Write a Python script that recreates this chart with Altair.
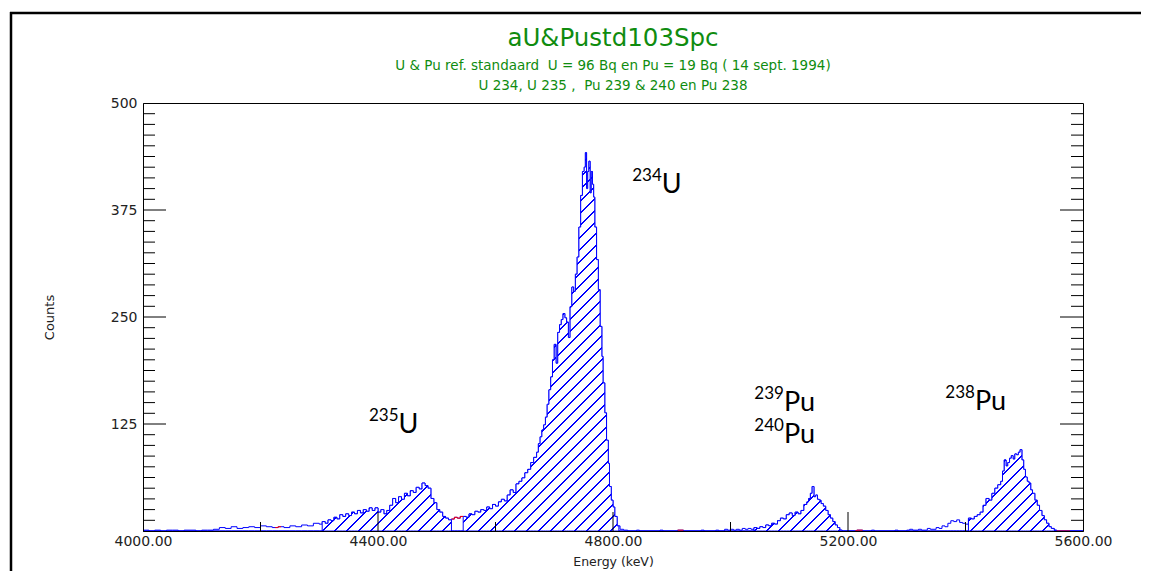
import altair as alt
import pandas as pd

# ---------------- data ----------------
energy = [4000, 4010, 4020, 4030, 4040, 4050, 4060, 4070, 4080, 4090, 4100, 4110, 4120,
          4130, 4140, 4150, 4160, 4170, 4180, 4190, 4200, 4210, 4220, 4230, 4240, 4250,
          4260, 4270, 4280, 4290, 4300,
          4305, 4310, 4315, 4320, 4325, 4330, 4335, 4340, 4345, 4350, 4355, 4360, 4365,
          4370, 4375, 4380, 4385, 4390, 4395, 4400, 4405, 4410, 4415, 4420, 4425, 4430,
          4435, 4440, 4445, 4450, 4455, 4460, 4465, 4470, 4475, 4480, 4485, 4490, 4495,
          4500, 4505, 4510, 4515, 4520, 4525, 4530, 4535, 4540,
          4545, 4550, 4555, 4560, 4565, 4570, 4575, 4580, 4585, 4590, 4595, 4600, 4605,
          4610, 4615, 4620, 4625, 4630, 4635, 4640, 4645, 4650, 4655, 4660, 4665, 4670,
          4673, 4676, 4679, 4682, 4685, 4688, 4691, 4694, 4697, 4700, 4703, 4706, 4709,
          4712, 4715, 4718, 4721, 4724, 4727, 4730, 4733, 4736, 4739, 4742, 4745, 4748,
          4751, 4753, 4755, 4757, 4759, 4761, 4763, 4765, 4767, 4769, 4772, 4775, 4778,
          4781, 4783, 4786, 4789, 4792, 4794, 4797, 4800, 4803, 4807, 4812, 4818, 4825,
          4840, 4845, 4880, 4885, 4910, 4920, 4950, 4955, 4975, 4980, 4990, 4995, 5000,
          5005, 5010, 5015, 5020, 5025, 5030, 5035, 5040, 5045, 5050, 5055, 5060, 5065,
          5070, 5075, 5080, 5085, 5090, 5095, 5100, 5105, 5110, 5115, 5120, 5125, 5130,
          5133, 5136, 5139, 5142, 5145, 5148, 5151, 5154, 5158, 5162, 5166, 5170, 5174,
          5178, 5182, 5186, 5190, 5215, 5225, 5240, 5245, 5280, 5285, 5300, 5305, 5310,
          5320, 5325, 5335, 5340, 5350, 5355, 5360, 5365, 5370, 5375, 5380, 5385, 5390,
          5395, 5400, 5405, 5410, 5415, 5420, 5425, 5430, 5435, 5440, 5445, 5450, 5455,
          5460, 5463, 5466, 5469, 5472, 5475, 5478, 5481, 5484, 5487, 5490, 5493, 5496,
          5499, 5502, 5505, 5508, 5511, 5514, 5518, 5522, 5526, 5530, 5534, 5538, 5542,
          5546, 5551, 5555, 5600]
counts = [1, 0, 1, 0, 1, 1, 0, 1, 1, 0, 1, 1, 2,
          4, 3, 5, 3, 4, 5, 4, 6, 5, 4, 5, 4, 6,
          5, 7, 6, 9, 8,
          11, 9, 13, 12, 16, 14, 19, 17, 20, 18, 22, 20, 24,
          21, 25, 23, 27, 24, 27, 22, 25, 20, 24, 30, 38, 33,
          40, 37, 44, 41, 47, 45, 51, 49, 56, 53, 50, 38, 33,
          25, 22, 17, 15, 13, 14, 16, 15, 17,
          17, 16, 20, 19, 23, 22, 25, 24, 28, 26, 31, 29, 34,
          37, 35, 42, 48, 45, 55, 58, 62, 68, 72, 80, 86, 92,
          102, 110, 118, 124, 133, 148, 165, 180, 200, 218, 196, 232, 241,
          247, 254, 249, 244, 226, 262, 285, 280, 300, 320, 355, 392, 420,
          425, 442, 400, 420, 432, 395, 420, 405, 390, 355, 317, 282, 239,
          204, 173, 138, 106, 79, 52, 36, 28, 17, 6, 2, 1, 0,
          1, 0, 1, 0, 1, 0, 1, 0, 1, 0, 2, 1, 2,
          1, 2, 1, 3, 2, 3, 2, 4, 3, 5, 4, 7, 6,
          9, 8, 12, 15, 14, 19, 21, 18, 22, 20, 24, 31, 34,
          38, 44, 52, 40, 42, 37, 36, 32, 29, 24, 19, 15, 11,
          7, 4, 1, 0, 1, 0, 1, 0, 1, 0, 1, 2, 1,
          2, 1, 3, 2, 4, 3, 6, 5, 9, 12, 11, 13, 10,
          9, 8, 15, 14, 17, 19, 22, 30, 38, 36, 44, 50, 54,
          58, 70, 83, 76, 80, 85, 88, 84, 90, 89, 92, 95, 83,
          72, 63, 58, 56, 48, 44, 36, 30, 24, 18, 13, 9, 5,
          3, 1, 0, 0]

roi_start = [4305, 4545, 5040, 5405]
roi_end = [4525, 4810, 5190, 5555]
red_start = [4225, 4525, 4910, 5212, 5555]
red_end = [4235, 4545, 4920, 5225, 5578]

x_label_values = [4000, 4400, 4800, 5200, 5600]
x_tick_major = [4400, 4800, 5200]
x_tick_minor = [4200, 4600, 5000, 5400]
y_label_values = [125, 250, 375, 500]
y_tick_major = [125, 250, 375]
y_tick_minor = [12.5 * k for k in range(1, 40) if k % 10 != 0]

iso_mass = ["234", "235", "239", "240", "238"]
iso_elem = ["U", "U", "Pu", "Pu", "Pu"]
iso_E = [4883, 4435, 5091, 5091, 5416]
iso_C = [395, 114, 140, 103, 141]

NB = "\u00a0"
title_text = "aU&Pustd103Spc"
subtitle_1 = "U & Pu ref. standaard " + NB + "U = 96 Bq en Pu = 19 Bq ( 14 sept. 1994)"
subtitle_2 = "U 234, U 235 , " + NB + "Pu 239 & 240 en Pu 238"

# ---------------- layout / style ----------------
W, H = 940, 428
BLUE = "#0000ff"
GREEN = "#0f8c0f"
FONT = "DejaVu Sans"

def step_value(e):
    v = counts[0]
    for ee, cc in zip(energy, counts):
        if ee <= e:
            v = cc
        else:
            break
    return v

spec_df = pd.DataFrame({"E": energy, "C": counts})

pts = sorted(set(energy + roi_start + roi_end))
def in_roi(e):
    return any(a <= e < b for a, b in zip(roi_start, roi_end))
area_df = pd.DataFrame({"E": pts, "C": [step_value(e) if in_roi(e) else 0 for e in pts]})

red_rows = []
for i, (a, b) in enumerate(zip(red_start, red_end)):
    seg = [a] + [e for e in energy if a < e < b] + [b]
    for j, e in enumerate(seg):
        val = step_value(e) if j < len(seg) - 1 else step_value(seg[-2])
        red_rows.append({"E": e, "C": val, "seg": i})
red_df = pd.DataFrame(red_rows)

# hatch pattern as a hard-stop linear gradient (45 degree lines over the area's box)
hmax = area_df["C"].max() * H / 500.0
L = W + hmax
a_vec = W * (W + hmax) / (W * W + hmax * hmax)
spacing = 12.0
lw = 1.4 / L
n = int(L / spacing) + 1
stops = []
gap = "#ffffff"
for k in range(n):
    c = (k + 0.5) * spacing / L
    if c + lw / 2 >= 1:
        break
    stops += [alt.GradientStop(color=gap, offset=c - lw / 2),
              alt.GradientStop(color=BLUE, offset=c - lw / 2),
              alt.GradientStop(color=BLUE, offset=c + lw / 2),
              alt.GradientStop(color=gap, offset=c + lw / 2)]
hatch = alt.LinearGradient(gradient="linear", stops=stops, x1=0, y1=0,
                           x2=a_vec, y2=a_vec * hmax / W)

xscale = alt.Scale(domain=[4000, 5600], nice=False, zero=False)
yscale = alt.Scale(domain=[0, 500], nice=False)

x_axis = alt.Axis(values=x_label_values, format=".2f", tickSize=0, labelPadding=3,
                  labelFontSize=14, labelFont=FONT, labelColor="#222", labelFlush=False,
                  domainColor="black", grid=False, title="Energy (keV)", titleFont=FONT,
                  titleFontSize=12.5, titleFontWeight="normal", titleColor="#222",
                  titlePadding=7, zindex=1)
y_axis = alt.Axis(values=y_label_values, tickSize=0, labelPadding=6, labelFontSize=14,
                  labelFont=FONT, labelColor="#222", labelFlush=False, domainColor="black",
                  grid=False, title="Counts", titleFont=FONT, titleFontSize=13,
                  titleFontWeight="normal", titleColor="#222", titlePadding=54,
                  zindex=1)

X = alt.X("E:Q", scale=xscale, axis=x_axis)
Y = alt.Y("C:Q", scale=yscale, axis=y_axis)

line = alt.Chart(spec_df).mark_line(interpolate="step-after", color=BLUE, strokeWidth=1).encode(
    x=X, y=Y)

area = alt.Chart(area_df).mark_area(interpolate="step-after", fill=hatch, stroke=BLUE,
                                    strokeWidth=1).encode(x=X, y=Y)

red = alt.Chart(red_df).mark_line(interpolate="step-after", color="#ff0000", strokeWidth=1).encode(
    x=X, y=Y, detail="seg:N")

xt_major = alt.Chart(pd.DataFrame({"E": x_tick_major})).mark_rule(color="black").encode(
    x=X, y=alt.value(H), y2=alt.value(H - 19))
xt_minor = alt.Chart(pd.DataFrame({"E": x_tick_minor})).mark_rule(color="black").encode(
    x=X, y=alt.value(H), y2=alt.value(H - 9))

def ytick(vals, length, right):
    x0 = W if right else 0
    x1 = W - length if right else length
    return alt.Chart(pd.DataFrame({"C": vals})).mark_rule(color="black").encode(
        y=Y, x=alt.value(x0), x2=alt.value(x1))

yt = [ytick(y_tick_major, 23, False), ytick(y_tick_minor, 12, False),
      ytick(y_tick_major, 23, True), ytick(y_tick_minor, 12, True)]

ann_df = pd.DataFrame({"E": iso_E, "C": iso_C, "m": iso_mass, "el": iso_elem})
ann_num = alt.Chart(ann_df).mark_text(align="right", baseline="alphabetic", dy=-12,
                                      font="Lato", fontSize=17, color="black").encode(
    x=X, y=Y, text="m:N")
ann_el = alt.Chart(ann_df).mark_text(align="left", baseline="alphabetic",
                                     font="Lato", fontSize=27, color="black").encode(
    x=X, y=Y, text="el:N")

one = pd.DataFrame({"a": [0]})
frame_top = alt.Chart(one).mark_rule(color="black", strokeWidth=2.5).encode(
    x=alt.value(-133), x2=alt.value(998), y=alt.value(-90))
frame_left = alt.Chart(one).mark_rule(color="black", strokeWidth=2.5).encode(
    x=alt.value(-132), y=alt.value(-91), y2=alt.value(490))

title_mark = alt.Chart(one).mark_text(font=FONT, fontSize=24.5, color=GREEN,
                                      align="center", baseline="middle").encode(
    x=alt.value(W / 2), y=alt.value(-64), text=alt.value(title_text))
sub1_mark = alt.Chart(one).mark_text(font=FONT, fontSize=13.5, color=GREEN,
                                     align="center", baseline="middle").encode(
    x=alt.value(W / 2), y=alt.value(-37), text=alt.value(subtitle_1))
sub2_mark = alt.Chart(one).mark_text(font=FONT, fontSize=13.5, color=GREEN,
                                     align="center", baseline="middle").encode(
    x=alt.value(W / 2), y=alt.value(-17), text=alt.value(subtitle_2))

chart = alt.layer(line, area, red, xt_major, xt_minor, *yt, ann_num, ann_el,
                  frame_top, frame_left, title_mark, sub1_mark, sub2_mark).properties(
    width=W, height=H,
    padding={"left": 135, "top": 95, "right": 59, "bottom": 40},
    autosize=alt.AutoSizeParams(type="none"),
).configure_view(stroke="black", strokeWidth=1)

chart.save("out.html", embed_options={"renderer": "svg", "actions": False})
